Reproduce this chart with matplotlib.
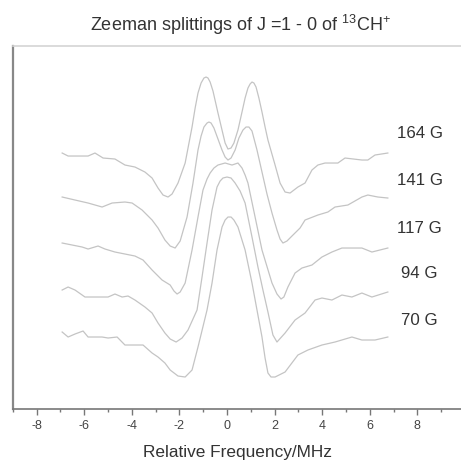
import matplotlib
matplotlib.use("Agg")
import matplotlib.pyplot as plt

plt.rcParams['font.family'] = ['Liberation Sans', 'DejaVu Sans']
plt.rcParams['mathtext.fontset'] = 'custom'
plt.rcParams['mathtext.rm'] = 'Liberation Sans'
plt.rcParams['mathtext.default'] = 'regular'
plt.rcParams['axes.unicode_minus'] = False

# traces: frequency (MHz) and stacked intensity (arb. units)
labels = ['164 G', '141 G', '117 G', '94 G', '70 G']

x164 = [-6.93, -6.68, -5.84, -5.55, -5.21, -4.71, -4.29, -3.87, -3.45, -3.15,
        -2.90, -2.69, -2.48, -2.31, -2.06, -1.76, -1.47, -1.34, -1.22, -1.09,
        -0.97, -0.88, -0.80, -0.71, -0.59, -0.38, -0.21, -0.08, 0.04, 0.17,
        0.29, 0.46, 0.63, 0.76, 0.88, 0.97, 1.05, 1.13, 1.22, 1.34,
        1.47, 1.60, 1.72, 2.02, 2.23, 2.44, 2.65, 2.98, 3.28, 3.57,
        3.82, 4.12, 4.66, 4.96, 5.67, 5.92, 6.22, 6.76]
y164 = [256, 253, 253, 256, 251, 250, 244, 242, 237, 231,
        221, 214, 212, 215, 226, 246, 282, 301, 316, 326,
        331, 332, 331, 327, 318, 296, 279, 266, 260, 261,
        266, 279, 297, 311, 321, 325, 327, 326, 322, 311,
        297, 282, 269, 244, 226, 217, 216, 222, 226, 239,
        244, 246, 246, 251, 249, 249, 254, 256]

x141 = [-6.93, -6.39, -5.84, -5.25, -4.83, -4.29, -3.99, -3.57, -3.15, -2.90,
        -2.61, -2.39, -2.18, -1.97, -1.68, -1.43, -1.22, -1.09, -0.97, -0.84,
        -0.76, -0.67, -0.55, -0.38, -0.21, -0.08, 0.04, 0.17, 0.34, 0.50,
        0.67, 0.80, 0.92, 1.05, 1.26, 1.47, 1.68, 1.89, 2.10, 2.23,
        2.35, 2.52, 2.73, 3.07, 3.28, 3.82, 4.24, 4.54, 5.08, 5.67,
        5.92, 6.34, 6.76]
y141 = [212, 209, 206, 202, 206, 207, 206, 199, 189, 181,
        169, 163, 161, 168, 192, 226, 259, 273, 282, 286,
        287, 286, 281, 270, 259, 252, 249, 251, 259, 271,
        279, 282, 282, 278, 259, 237, 215, 196, 179, 170,
        166, 168, 173, 181, 189, 194, 197, 202, 204, 212,
        214, 212, 211]

x117 = [-6.93, -6.51, -6.09, -5.84, -5.42, -5.13, -4.71, -4.29, -3.87, -3.53,
        -3.15, -2.73, -2.39, -2.23, -2.10, -1.97, -1.76, -1.47, -1.22, -1.01,
        -0.84, -0.71, -0.55, -0.38, -0.08, 0.21, 0.46, 0.63, 0.76, 0.88,
        1.18, 1.47, 1.89, 2.10, 2.27, 2.39, 2.56, 2.86, 3.15, 3.57,
        3.99, 4.41, 4.83, 5.67, 6.09, 6.76]
y117 = [166, 164, 162, 160, 163, 160, 157, 155, 153, 149,
        139, 129, 124, 118, 115, 117, 126, 159, 192, 219,
        230, 236, 241, 244, 246, 244, 246, 241, 234, 226,
        192, 159, 126, 115, 110, 112, 122, 136, 141, 144,
        152, 157, 161, 161, 157, 161]

x94 = [-6.93, -6.68, -6.39, -5.97, -5.00, -4.71, -4.41, -4.16, -3.87, -3.45,
       -3.15, -2.90, -2.61, -2.39, -2.14, -1.89, -1.64, -1.26, -1.05, -0.84,
       -0.63, -0.42, -0.29, -0.17, 0.00, 0.17, 0.34, 0.55, 0.76, 1.05,
       1.30, 1.51, 1.72, 1.93, 2.10, 2.44, 2.86, 3.28, 3.70, 3.99,
       4.41, 4.83, 5.25, 5.67, 6.09, 6.76]
y94 = [119, 122, 119, 112, 112, 115, 112, 113, 109, 102,
       96, 86, 76, 70, 67, 71, 79, 99, 132, 166,
       199, 222, 228, 231, 232, 231, 226, 218, 206, 172,
       142, 119, 97, 74, 67, 76, 89, 96, 109, 111,
       109, 114, 112, 116, 112, 117]

x70 = [-6.93, -6.68, -6.39, -6.05, -5.84, -5.25, -5.00, -4.62, -4.29, -3.53,
       -3.15, -2.90, -2.61, -2.39, -2.06, -1.76, -1.47, -1.22, -0.84, -0.63,
       -0.42, -0.21, -0.08, 0.04, 0.17, 0.29, 0.46, 0.76, 1.05, 1.26,
       1.47, 1.60, 1.72, 1.85, 2.02, 2.44, 2.98, 3.40, 3.99, 4.54,
       5.25, 5.67, 6.22, 6.76]
y70 = [77, 72, 75, 78, 72, 72, 71, 72, 64, 64,
       56, 52, 46, 39, 33, 32, 39, 62, 99, 126,
       159, 182, 189, 192, 192, 189, 182, 159, 126, 99,
       72, 51, 36, 32, 32, 37, 54, 59, 64, 67,
       72, 69, 69, 72]

# label heights (same units as the traces)
label_y = [276, 229, 181, 136, 89]
label_x = 8.1

traces = [(x164, y164), (x141, y141), (x117, y117), (x94, y94), (x70, y70)]

fig = plt.figure(figsize=(4.61, 4.63), dpi=100)
ax = fig.add_axes([0.028, 0.1166, 0.9805, 0.784])

for xs, ys in traces:
    ax.plot(xs, ys, color='#c4c4c4', lw=0.9)

for lab, ly in zip(labels, label_y):
    ax.text(label_x, ly, lab, ha='center', va='center', fontsize=12.2, color='#333333')

ax.set_xlim(-9, 10)
ax.set_ylim(0, 363)
ax.set_xticks(range(-8, 10, 2))
ax.set_xticks(range(-9, 10, 2), minor=True)
ax.set_yticks([])
ax.tick_params(axis='x', which='major', length=4, width=1, color='#777777',
               labelsize=9, labelcolor='#444444', pad=4)
ax.tick_params(axis='x', which='minor', length=2.5, width=1, color='#777777')

ax.spines['left'].set_color('#888888')
ax.spines['left'].set_linewidth(1.6)
ax.spines['bottom'].set_color('#777777')
ax.spines['bottom'].set_linewidth(1.2)
ax.spines['top'].set_color('#d4d4d4')
ax.spines['top'].set_linewidth(1.2)
ax.spines['right'].set_visible(False)

fig.text(0.523, 0.946, r'Zeeman splittings of J =1 - 0 of $^{13}$CH$^{+}$',
         ha='center', va='center', fontsize=13, color='#333333')
fig.text(0.516, 0.022, 'Relative Frequency/MHz', ha='center', va='center',
         fontsize=12.4, color='#333333')

fig.savefig('out.png', dpi=100)
